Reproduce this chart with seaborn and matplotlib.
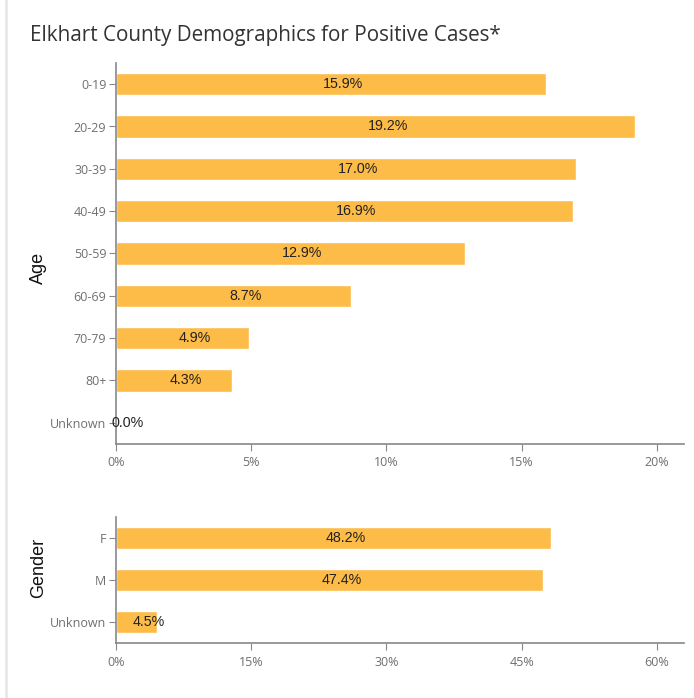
import pandas as pd
import numpy as np
import matplotlib
matplotlib.use("Agg")
import matplotlib.pyplot as plt
import seaborn as sns
from matplotlib.lines import Line2D

age_groups = ["0-19", "20-29", "30-39", "40-49", "50-59", "60-69", "70-79", "80+", "Unknown"]
age_pct = [15.9, 19.2, 17.0, 16.9, 12.9, 8.7, 4.9, 4.3, 0.0]
gender_groups = ["F", "M", "Unknown"]
gender_pct = [48.2, 47.4, 4.5]

age_ticks = [0, 5, 10, 15, 20]
gender_ticks = [0, 15, 30, 45, 60]

bar_color = "#FDBB48"
grey = "#6f6f6f"

sns.set_style("white")
plt.rcParams["font.family"] = ["Liberation Sans", "DejaVu Sans"]

df_age = pd.DataFrame({"group": age_groups, "pct": age_pct})
df_gender = pd.DataFrame({"group": gender_groups, "pct": gender_pct})

fig = plt.figure(figsize=(6.94, 6.98), dpi=100)
ax1 = fig.add_axes([116/694, 1-444/698, 568/694, 381/698])
ax2 = fig.add_axes([116/694, 1-643/698, 568/694, 126/698])


def draw(ax, data, ticks, xmax, label, label_y):
    sns.barplot(data=data, x="pct", y="group", orient="h", color=bar_color,
                width=0.52, saturation=1, ax=ax)
    ax.set_xlim(0, xmax)
    ax.set_ylim(len(data) - 0.5, -0.5)
    ax.set_xticks(ticks)
    ax.set_xticklabels([f"{t}%" for t in ticks])
    ax.set_xlabel("")
    ax.set_ylabel(label, fontsize=13, color="#111111")
    ax.yaxis.set_label_coords(-0.121, label_y)
    for s in ["top", "right"]:
        ax.spines[s].set_visible(False)
    for s in ["left", "bottom"]:
        ax.spines[s].set_color("#888888")
        ax.spines[s].set_linewidth(1.2)
    ax.tick_params(axis="both", length=5, color="#888888", labelcolor=grey,
                   labelsize=9, pad=2, left=True, bottom=True)
    ax.tick_params(axis="x", pad=4)
    for lbl in ax.get_xticklabels() + ax.get_yticklabels():
        lbl.set_family(["Open Sans", "DejaVu Sans"])
    # value labels: bar middle, shifted 12 px to the right
    for i, v in enumerate(data["pct"]):
        ax.annotate(f"{v:.1f}%", xy=(v / 2, i), xytext=(12 * 72 / fig.dpi, 0),
                    textcoords="offset points", ha="center", va="center",
                    fontsize=10.3, color="#222222")


draw(ax1, df_age, age_ticks, 21, "Age", 0.462)
draw(ax2, df_gender, gender_ticks, 63, "Gender", 0.595)

fig.text(30/694, 1-35/698, "Elkhart County Demographics for Positive Cases*",
         fontsize=14.9, color="#333333", va="center", ha="left",
         family=["Open Sans", "DejaVu Sans"])

fig.add_artist(Line2D([6/694, 6/694], [0, 1], transform=fig.transFigure,
                      color="#e8e8e8", linewidth=2))

fig.savefig("out.png", dpi=100)
